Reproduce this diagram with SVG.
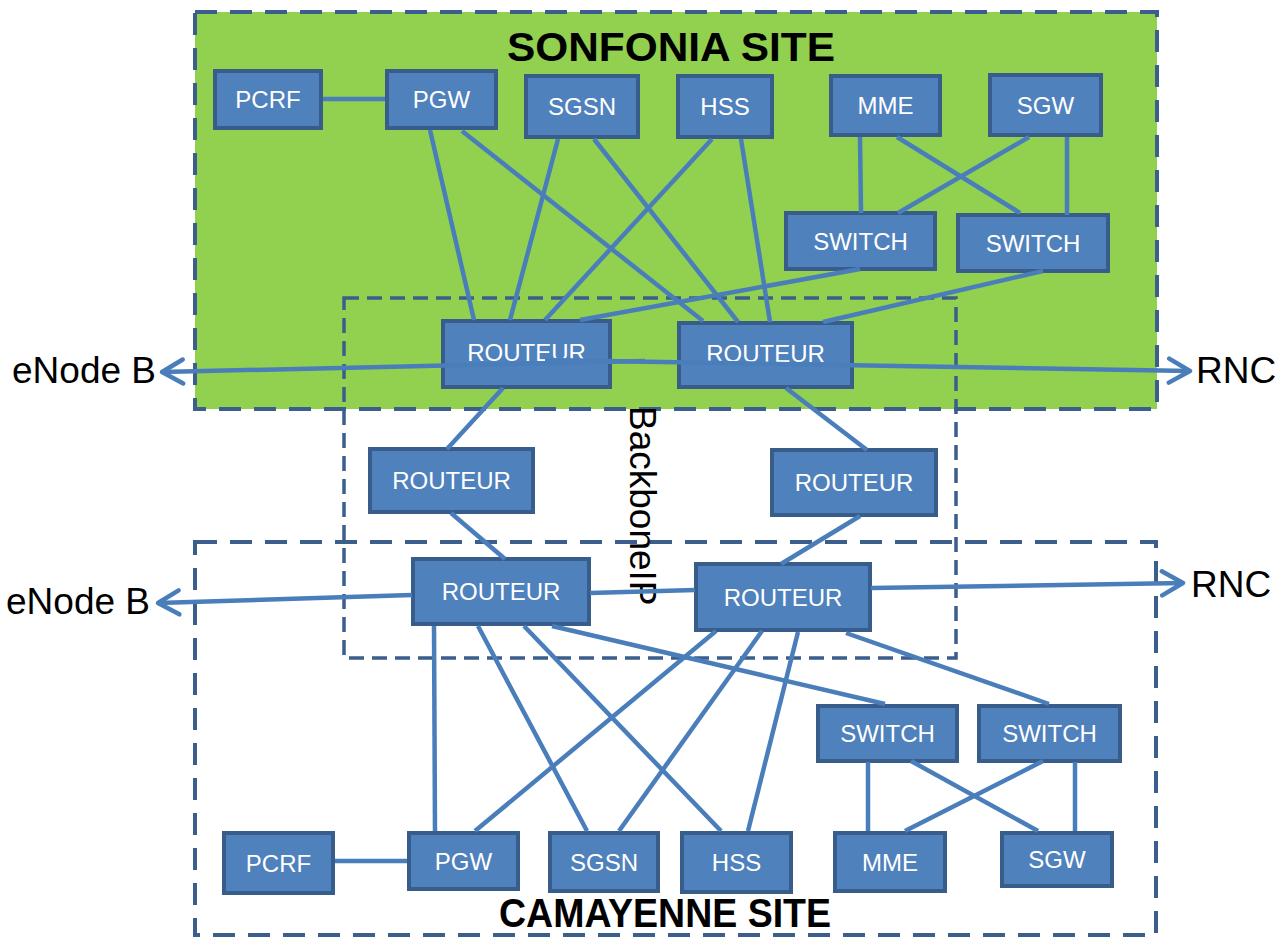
<svg xmlns="http://www.w3.org/2000/svg" width="1287" height="939" viewBox="0 0 1287 939">
<defs>
<style>
.site{fill:none;stroke:#3B5E8C;stroke-width:4;stroke-dasharray:22 13}
.bb{fill:none;stroke:#3B5E8C;stroke-width:3.5;stroke-dasharray:15 8}
.node rect{fill:#4F81BD;stroke:#385D8A;stroke-width:4}
.node text{font-family:"Liberation Sans",Arial,sans-serif;font-size:24px;fill:#fff;text-anchor:middle}
#connectors line{stroke:#4A7EBB;stroke-width:4.5;fill:none}
.lbl{font-family:"Liberation Sans",Arial,sans-serif;font-size:37px;fill:#000}
.title{font-family:"Liberation Sans",Arial,sans-serif;font-size:40px;font-weight:bold;fill:#000;text-anchor:middle}
</style>
<marker id="arr" markerUnits="userSpaceOnUse" viewBox="-26 -15 30 30" markerWidth="30" markerHeight="30" refX="0" refY="0" orient="auto">
<path d="M-21,-12 L0,0 L-21,12" fill="none" stroke="#4A7EBB" stroke-width="4.5" stroke-linecap="round" stroke-linejoin="round"/>
</marker>
</defs>
<rect width="1287" height="939" fill="#fff"/>
<g id="sonfonia-site">
<rect x="195" y="12" width="962" height="397" fill="#92D050"/>
<rect class="site" x="195" y="12" width="962" height="397"/>
<text class="title" x="671" y="61" textLength="328" lengthAdjust="spacingAndGlyphs">SONFONIA SITE</text>
</g>
<g id="camayenne-site">
<rect class="site" x="195" y="542" width="961" height="393"/>
<text class="title" x="665" y="927" textLength="332" lengthAdjust="spacingAndGlyphs">CAMAYENNE SITE</text>
</g>
<g id="backbone">
<rect class="bb" x="344" y="298" width="612" height="360"/>
<text class="lbl" transform="translate(630,406) rotate(90)">BackboneIP</text>
</g>
<g id="pcrf1" class="node"><rect x="215" y="71" width="106" height="57"/><text x="268" y="108">PCRF</text></g>
<g id="pgw1" class="node"><rect x="387" y="71" width="109" height="57"/><text x="441.5" y="108">PGW</text></g>
<g id="sgsn1" class="node"><rect x="526" y="76" width="112" height="61"/><text x="582" y="115">SGSN</text></g>
<g id="hss1" class="node"><rect x="678" y="76" width="94" height="61"/><text x="725" y="115">HSS</text></g>
<g id="mme1" class="node"><rect x="831" y="76" width="109" height="59"/><text x="885.5" y="114">MME</text></g>
<g id="sgw1" class="node"><rect x="990" y="75" width="111" height="60"/><text x="1045.5" y="113.5">SGW</text></g>
<g id="switch1" class="node"><rect x="786" y="213" width="149" height="56"/><text x="860.5" y="249.5">SWITCH</text></g>
<g id="switch2" class="node"><rect x="958" y="215" width="150" height="56"/><text x="1033" y="251.5">SWITCH</text></g>
<g id="routeur1" class="node"><rect x="443" y="321" width="167" height="66"/><text x="526.5" y="361">ROUTEUR</text></g>
<g id="routeur2" class="node"><rect x="679" y="323" width="173" height="64"/><text x="765.5" y="362">ROUTEUR</text></g>
<g id="routeur3" class="node"><rect x="370" y="449" width="163" height="63"/><text x="451.5" y="489">ROUTEUR</text></g>
<g id="routeur4" class="node"><rect x="772" y="450" width="164" height="65"/><text x="854" y="491">ROUTEUR</text></g>
<g id="routeur5" class="node"><rect x="413" y="559" width="176" height="65"/><text x="501" y="600">ROUTEUR</text></g>
<g id="routeur6" class="node"><rect x="696" y="564" width="174" height="66"/><text x="783" y="605.5">ROUTEUR</text></g>
<g id="pcrf2" class="node"><rect x="224" y="833" width="109" height="60"/><text x="278.5" y="871.5">PCRF</text></g>
<g id="pgw2" class="node"><rect x="409" y="833" width="109" height="56"/><text x="463.5" y="869.5">PGW</text></g>
<g id="sgsn2" class="node"><rect x="550" y="833" width="108" height="58"/><text x="604" y="870.5">SGSN</text></g>
<g id="hss2" class="node"><rect x="682" y="833" width="109" height="59"/><text x="736.5" y="871">HSS</text></g>
<g id="mme2" class="node"><rect x="835" y="833" width="110" height="58"/><text x="890" y="870.5">MME</text></g>
<g id="sgw2" class="node"><rect x="1002" y="833" width="110" height="53"/><text x="1057" y="868">SGW</text></g>
<g id="switch3" class="node"><rect x="818" y="706" width="139" height="55"/><text x="887.5" y="742">SWITCH</text></g>
<g id="switch4" class="node"><rect x="979" y="706" width="141" height="55"/><text x="1049.5" y="742">SWITCH</text></g>
<g id="enodeb1"><text class="lbl" x="12" y="383">eNode B</text></g>
<g id="rnc1"><text class="lbl" x="1196" y="383">RNC</text></g>
<g id="enodeb2"><text class="lbl" x="6" y="614">eNode B</text></g>
<g id="rnc2"><text class="lbl" x="1191" y="597">RNC</text></g>
<g id="connectors">
<line x1="323" y1="99" x2="385" y2="99"/>
<line x1="430" y1="130" x2="474" y2="320"/>
<line x1="462" y1="131" x2="703" y2="321"/>
<line x1="558" y1="139" x2="510" y2="320"/>
<line x1="594" y1="139" x2="738" y2="322"/>
<line x1="712" y1="139" x2="545" y2="320"/>
<line x1="741" y1="139" x2="770" y2="322"/>
<line x1="860" y1="137" x2="861" y2="213"/>
<line x1="897" y1="137" x2="1020" y2="213"/>
<line x1="1029" y1="137" x2="898" y2="213"/>
<line x1="1067" y1="137" x2="1067" y2="215"/>
<line x1="860" y1="269" x2="580" y2="320"/>
<line x1="1043" y1="271" x2="823" y2="322"/>
<line x1="645" y1="361" x2="162" y2="372" marker-end="url(#arr)"/>
<line x1="545" y1="360" x2="1190" y2="371" marker-end="url(#arr)"/>
<line x1="503" y1="388" x2="447" y2="449"/>
<line x1="786" y1="388" x2="867" y2="450"/>
<line x1="451" y1="513" x2="505" y2="559"/>
<line x1="860" y1="516" x2="781" y2="564"/>
<line x1="412" y1="595" x2="158" y2="603" marker-end="url(#arr)"/>
<line x1="590" y1="593" x2="695" y2="590"/>
<line x1="871" y1="588" x2="1183" y2="583" marker-end="url(#arr)"/>
<line x1="434" y1="626" x2="435" y2="831"/>
<line x1="478" y1="626" x2="587" y2="831"/>
<line x1="524" y1="626" x2="721" y2="831"/>
<line x1="552" y1="626" x2="885" y2="704"/>
<line x1="716" y1="631" x2="475" y2="831"/>
<line x1="762" y1="631" x2="619" y2="831"/>
<line x1="798" y1="632" x2="748" y2="831"/>
<line x1="846" y1="633" x2="1049" y2="704"/>
<line x1="868" y1="762" x2="868" y2="831"/>
<line x1="911" y1="761" x2="1038" y2="831"/>
<line x1="1043" y1="761" x2="905" y2="831"/>
<line x1="1075" y1="762" x2="1075" y2="831"/>
<line x1="335" y1="861" x2="407" y2="861"/>
</g>
</svg>
